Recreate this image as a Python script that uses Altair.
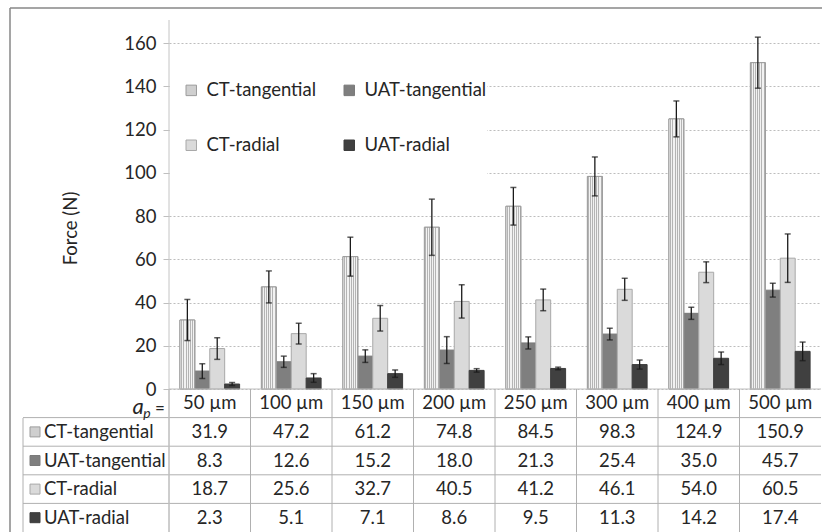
import altair as alt
import pandas as pd

categories = ["50 µm", "100 µm", "150 µm", "200 µm", "250 µm", "300 µm", "400 µm", "500 µm"]
series_names = ["CT-tangential", "UAT-tangential", "CT-radial", "UAT-radial"]

ct_tangential = [31.9, 47.2, 61.2, 74.8, 84.5, 98.3, 124.9, 150.9]
uat_tangential = [8.3, 12.6, 15.2, 18.0, 21.3, 25.4, 35.0, 45.7]
ct_radial = [18.7, 25.6, 32.7, 40.5, 41.2, 46.1, 54.0, 60.5]
uat_radial = [2.3, 5.1, 7.1, 8.6, 9.5, 11.3, 14.2, 17.4]

ct_tangential_err = [9.5, 7.4, 9.0, 13.0, 8.7, 9.0, 8.3, 11.8]
uat_tangential_err = [3.4, 2.6, 2.9, 6.2, 2.8, 2.7, 2.8, 3.2]
ct_radial_err = [5.0, 4.8, 5.9, 7.7, 5.0, 5.1, 4.8, 11.2]
uat_radial_err = [0.7, 2.0, 1.7, 0.8, 0.6, 2.1, 2.9, 4.3]

y_ticks = [0, 20, 40, 60, 80, 100, 120, 140, 160]
header_key = "header"

fill_colors = ["#cfcfcf", "#7f7f7f", "#dadada", "#404040"]
stroke_colors = ["#9c9c9c", "#7a7a7a", "#a8a8a8", "#3c3c3c"]
TXT = "#262626"
FONT = "Lato"
FS = 18.5

# ---- build tables ----
recs = []
for s, vals, errs in zip(series_names,
                         [ct_tangential, uat_tangential, ct_radial, uat_radial],
                         [ct_tangential_err, uat_tangential_err, ct_radial_err, uat_radial_err]):
    for c, v, e in zip(categories, vals, errs):
        recs.append({"cat": c, "series": s, "value": v, "lo": v - e, "hi": v + e,
                     "row": s, "text": f"{v:.1f}"})
df = pd.DataFrame(recs)

hdr = pd.DataFrame({"cat": categories, "row": header_key, "text": categories})
table_df = pd.concat([hdr, df[["cat", "row", "text"]]], ignore_index=True)
row_df = pd.DataFrame({"row": series_names, "series": series_names})
row_domain = [header_key] + series_names

W, H = 652, 489
PLOT_H = 346

# fine texture imitating the crosshatch fill
stops = []
n_stripes = 16
for i in range(n_stripes):
    col = "#f2f2f2" if i % 2 == 0 else "#b4b4b4"
    stops.append(alt.GradientStop(offset=i / n_stripes, color=col))
    stops.append(alt.GradientStop(offset=(i + 1) / n_stripes, color=col))
hatch = alt.LinearGradient(gradient="linear", stops=stops, x1=0, x2=1, y1=0, y2=0)

xscale = alt.Scale(domain=categories, paddingInner=0, paddingOuter=0)
xoff_scale = alt.Scale(domain=series_names, paddingInner=0, paddingOuter=0.73)
yscale = alt.Scale(domain=[0, 160], range=[PLOT_H, 0], nice=False, zero=True)
yaxis = alt.Axis(values=y_ticks, grid=True, gridDash=[2, 2], gridColor="#bdbdbd",
                 domain=False, tickColor="#bfbfbf", tickSize=6, labelPadding=7,
                 labelFontSize=FS, labelColor=TXT, labelFont=FONT,
                 title="Force (N)", titleFontSize=FS, titleFontWeight="normal",
                 titleColor=TXT, titleFont=FONT, titleX=-99, titleY=185,
                 titleAngle=270, titleAlign="center", titleBaseline="middle")
color_enc = alt.Color("series:N", scale=alt.Scale(domain=series_names, range=fill_colors),
                      legend=alt.Legend(title=None, orient="none", legendX=13, legendY=38,
                                        direction="horizontal",
                                        columns=2, columnPadding=23, rowPadding=36,
                                        symbolType="square", symbolSize=110,
                                        symbolStrokeWidth=1, labelOffset=6,
                                        labelFontSize=FS, labelFont=FONT, labelColor=TXT,
                                        padding=0))
stroke_enc = alt.Stroke("series:N", scale=alt.Scale(domain=series_names, range=stroke_colors),
                        legend=None)

base = alt.Chart(df)
dummy = alt.Data(values=[{"k": 1}])

legend_box = alt.Chart(dummy).mark_rect(fill="white").encode(
    x=alt.value(1), x2=alt.value(318), y=alt.value(22), y2=alt.value(150))

xenc = alt.X("cat:N", scale=xscale, axis=None, sort=categories)
xoenc = alt.XOffset("series:N", scale=xoff_scale, sort=series_names)

bars = base.mark_bar(strokeWidth=1).encode(
    x=xenc, xOffset=xoenc,
    y=alt.Y("value:Q", scale=yscale, axis=yaxis),
    color=color_enc,
    stroke=stroke_enc,
)

hatch_bars = base.transform_filter(alt.datum.series == series_names[0]).mark_bar(
    fill=hatch, stroke="#9c9c9c", strokeWidth=1).encode(
    x=xenc, xOffset=xoenc,
    y=alt.Y("value:Q", scale=yscale, axis=yaxis))

err_rule = base.mark_rule(color="#1a1a1a", strokeWidth=1.3).encode(
    x=xenc, xOffset=xoenc,
    y=alt.Y("lo:Q", scale=yscale, axis=yaxis), y2="hi:Q")
cap_lo = base.mark_tick(color="#1a1a1a", size=6, thickness=1.5).encode(
    x=xenc, xOffset=xoenc,
    y=alt.Y("lo:Q", scale=yscale, axis=yaxis))
cap_hi = base.mark_tick(color="#1a1a1a", size=6, thickness=1.5).encode(
    x=xenc, xOffset=xoenc,
    y=alt.Y("hi:Q", scale=yscale, axis=yaxis))

baseline = alt.Chart(alt.Data(values=[{"v": 0}])).mark_rule(color="#bfbfbf", strokeWidth=1).encode(
    y=alt.Y("v:Q", scale=yscale, axis=yaxis))

plot_layer = alt.layer(legend_box, bars, hatch_bars, baseline, err_rule, cap_lo, cap_hi)

# ---- data table ----
tyscale = alt.Scale(domain=row_domain, range=[PLOT_H, H], paddingInner=0, paddingOuter=0)
tyenc = alt.Y("row:N", scale=tyscale, axis=None, sort=row_domain)

cells = alt.Chart(table_df).mark_text(fontSize=FS, font=FONT, color=TXT, baseline="middle").encode(
    x=xenc, y=tyenc, text="text:N")

col_lines = alt.Chart(hdr).mark_rule(color="#b0b0b0", strokeWidth=1).encode(
    x=alt.X("cat:N", scale=xscale, axis=None, sort=categories, bandPosition=0),
    y=alt.value(PLOT_H), y2=alt.value(H))

row_lines = alt.Chart(row_df).mark_rule(color="#b0b0b0", strokeWidth=1).encode(
    y=alt.Y("row:N", scale=tyscale, axis=None, sort=row_domain, bandPosition=0),
    x=alt.value(-146), x2=alt.value(W))

left_border = alt.Chart(dummy).mark_rule(color="#b0b0b0", strokeWidth=1).encode(
    x=alt.value(-146), y=alt.value(PLOT_H + 29), y2=alt.value(H))

axis_line = alt.Chart(dummy).mark_rule(color="#c4c4c4", strokeWidth=1).encode(
    x=alt.value(0), y=alt.value(-23), y2=alt.value(H))

swatches = alt.Chart(row_df).mark_point(shape="square", filled=True, size=100, opacity=1,
                                        strokeWidth=1).encode(
    x=alt.value(-134), y=tyenc, color=color_enc, stroke=stroke_enc)

row_labels = alt.Chart(row_df).mark_text(fontSize=FS, font=FONT, color=TXT, align="left",
                                         baseline="middle").encode(
    x=alt.value(-125), y=tyenc, text="row:N")

ap_a = alt.Chart(dummy).mark_text(text="a", fontSize=22, fontStyle="italic", font=FONT,
                                  color=TXT, align="center", baseline="alphabetic").encode(
    x=alt.value(-31), y=alt.value(371))
ap_p = alt.Chart(dummy).mark_text(text="p", fontSize=14, fontStyle="italic", font=FONT,
                                  color=TXT, align="center", baseline="alphabetic").encode(
    x=alt.value(-22), y=alt.value(375))
ap_eq = alt.Chart(dummy).mark_text(text="=", fontSize=17, font=FONT,
                                   color=TXT, align="center", baseline="alphabetic").encode(
    x=alt.value(-9), y=alt.value(371))

border_top = alt.Chart(dummy).mark_rule(color="#878787", strokeWidth=1.5).encode(
    x=alt.value(-159), x2=alt.value(W + 5), y=alt.value(-35))
border_left = alt.Chart(dummy).mark_rule(color="#878787", strokeWidth=1.5).encode(
    x=alt.value(-159), y=alt.value(-35), y2=alt.value(H + 5))

table_layer = alt.layer(col_lines, row_lines, left_border, cells, swatches, row_labels,
                        ap_a, ap_p, ap_eq, axis_line, border_top, border_left)

chart = alt.layer(plot_layer, table_layer).resolve_scale(y="independent").properties(
    width=W, height=H,
    autosize=alt.AutoSizeParams(type="none"),
    padding={"left": 169, "top": 43, "right": 1, "bottom": 0},
    background="white",
).configure_view(stroke=None)

chart.save("out.html", embed_options={"renderer": "svg", "actions": False})
